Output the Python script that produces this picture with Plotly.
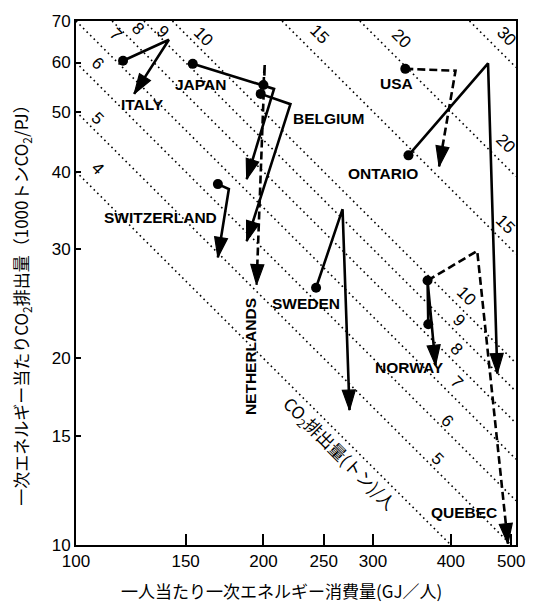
import numpy as np
import plotly.graph_objects as go

# Primary energy per capita (GJ/person) and CO2 intensity (1000 t CO2/PJ)
# Each path: start, turning point, end
ITALY_GJ = [119, 141, 124]
ITALY_CO2 = [60.4, 65.3, 53.4]
JAPAN_GJ = [154, 208, 188]
JAPAN_CO2 = [59.7, 54.4, 38.9]
BELGIUM_GJ = [198, 221, 188]
BELGIUM_CO2 = [53.4, 51.4, 30.9]
NETHERLANDS_GJ = [200, 201, 195]
NETHERLANDS_CO2 = [55.2, 59.6, 26.3]
SWITZERLAND_GJ = [169, 176, 169]
SWITZERLAND_CO2 = [38.2, 37.5, 29.1]
SWEDEN_GJ = [243, 268, 275]
SWEDEN_CO2 = [26.0, 34.8, 16.5]
NORWAY_GJ = [368, 367, 378]
NORWAY_CO2 = [22.7, 26.7, 19.5]
QUEBEC_GJ = [367, 441, 494]
QUEBEC_CO2 = [26.7, 29.8, 10.05]
ONTARIO_GJ = [342, 459, 475]
ONTARIO_CO2 = [42.5, 59.8, 18.9]
USA_GJ = [338, 407, 383]
USA_CO2 = [58.6, 58.2, 40.8]

# Iso-lines of per-capita emissions (t CO2/person)
PER_CAPITA_LEVELS = [4, 5, 6, 7, 8, 9, 10, 15, 20, 30]

X_TICKS = [100, 150, 200, 250, 300, 400, 500]
Y_TICKS = [10, 15, 20, 30, 40, 50, 60, 70]

X_MIN, X_MAX = 100, 509
Y_MIN, Y_MAX = 10, 70

LATIN = "Liberation Sans, Arial, sans-serif"
CJK = "Noto Sans CJK JP, sans-serif"

fig = go.Figure()

# dotted iso-emission lines: energy * intensity / 1000 = tonnes per person
for c in PER_CAPITA_LEVELS:
    x0 = max(X_MIN, 1000 * c / Y_MAX)
    x1 = min(X_MAX, 1000 * c / Y_MIN)
    xs = [x0, x1]
    ys = [1000 * c / v for v in xs]
    fig.add_trace(go.Scatter(
        x=xs, y=ys, mode="lines",
        line=dict(color="black", width=1.6, dash="1.6px,3.4px"),
        hoverinfo="skip", showlegend=False))

paths = [
    ("ITALY", ITALY_GJ, ITALY_CO2, "solid"),
    ("JAPAN", JAPAN_GJ, JAPAN_CO2, "solid"),
    ("BELGIUM", BELGIUM_GJ, BELGIUM_CO2, "solid"),
    ("NETHERLANDS", NETHERLANDS_GJ, NETHERLANDS_CO2, "dashed"),
    ("SWITZERLAND", SWITZERLAND_GJ, SWITZERLAND_CO2, "solid"),
    ("SWEDEN", SWEDEN_GJ, SWEDEN_CO2, "solid"),
    ("NORWAY", NORWAY_GJ, NORWAY_CO2, "solid"),
    ("QUEBEC", QUEBEC_GJ, QUEBEC_CO2, "dashed"),
    ("ONTARIO", ONTARIO_GJ, ONTARIO_CO2, "solid"),
    ("USA", USA_GJ, USA_CO2, "dashed"),
]

for name, gx, cy, style in paths:
    dash = "solid" if style == "solid" else "8px,4px"
    n = len(gx)
    # path with an arrowhead at its final point
    fig.add_trace(go.Scatter(
        x=gx, y=cy, mode="lines+markers", name=name,
        line=dict(color="black", width=2.6, dash=dash),
        marker=dict(symbol="arrow", size=[0] * (n - 1) + [21],
                    color="black", opacity=1, angleref="previous",
                    line=dict(width=1.2, color="black")),
        opacity=1, cliponaxis=False, showlegend=False))
    # filled dot at the starting point
    fig.add_trace(go.Scatter(
        x=[gx[0]], y=[cy[0]], mode="markers",
        marker=dict(symbol="circle", size=10, color="black",
                    line=dict(width=0)),
        cliponaxis=False, showlegend=False, hoverinfo="skip"))

# country names
country_labels = [
    ("ITALY", 127.8, 51.3, 0),
    ("JAPAN", 158.4, 55.2, 0),
    ("BELGIUM", 254.0, 48.8, 0),
    ("USA", 326.6, 55.6, 0),
    ("ONTARIO", 310.9, 39.8, 0),
    ("SWITZERLAND", 136.7, 33.7, 0),
    ("SWEDEN", 233.9, 24.5, 0),
    ("NETHERLANDS", 190.4, 20.1, -90),
    ("NORWAY", 342.9, 19.35, 0),
    ("QUEBEC", 419.8, 11.3, 0),
]
annotations = []
for text, x, y, ang in country_labels:
    annotations.append(dict(
        x=np.log10(x), y=np.log10(y), xref="x", yref="y",
        text="<b>%s</b>" % text,
        showarrow=False, textangle=ang,
        font=dict(family=LATIN, size=15.5, color="black")))

# level labels along the dotted lines
level_labels = [
    ("7", 115.8, 66.6), ("8", 125.6, 68.0), ("9", 137.7, 67.3),
    ("10", 160.2, 66.1), ("15", 246.3, 66.6), ("20", 333.0, 65.6),
    ("30", 491.7, 66.1),
    ("6", 108.4, 59.8), ("5", 108.4, 48.8), ("4", 108.4, 40.5),
    ("20", 489.8, 44.4), ("15", 489.8, 32.9), ("10", 424.4, 25.2),
    ("9", 412.1, 23.0), ("8", 409.1, 20.7), ("7", 409.1, 18.3),
    ("6", 394.4, 15.9), ("5", 380.2, 13.8),
]
for text, x, y in level_labels:
    annotations.append(dict(
        x=np.log10(x), y=np.log10(y), xref="x", yref="y", text=text,
        showarrow=False, textangle=45,
        font=dict(family=LATIN, size=17, color="black")))

# caption along the iso-lines
annotations.append(dict(
    x=np.log10(265), y=np.log10(14.06), xref="x", yref="y",
    text="CO<sub>2</sub>排出量(トン)/人", showarrow=False, textangle=45,
    font=dict(family=CJK, size=17, color="black")))

# axis titles
annotations.append(dict(
    x=0.468, y=0, xref="paper", yref="paper", yshift=-45,
    text="一人当たり一次エネルギー消費量(GJ／人)", showarrow=False,
    yanchor="middle", font=dict(family=CJK, size=17, color="black")))
annotations.append(dict(
    x=0, y=0.466, xref="paper", yref="paper", xshift=-54,
    text="一次エネルギー当たりCO<sub>2</sub>排出量（1000トンCO<sub>2</sub>/PJ）",
    showarrow=False, textangle=-90, xanchor="center",
    font=dict(family=CJK, size=17, color="black")))

axis_common = dict(
    type="log", showgrid=False, zeroline=False,
    showline=True, linecolor="black", linewidth=2, mirror=True,
    ticks="inside", tickcolor="black", tickwidth=2,
    tickfont=dict(family=LATIN, size=17, color="black"))

fig.update_layout(
    width=537, height=602,
    margin=dict(l=76, r=19, t=19, b=57),
    plot_bgcolor="white", paper_bgcolor="white",
    xaxis=dict(range=[np.log10(X_MIN), np.log10(X_MAX)],
               tickvals=X_TICKS, ticktext=[str(v) for v in X_TICKS],
               ticklen=11, **axis_common),
    yaxis=dict(range=[np.log10(Y_MIN), np.log10(Y_MAX)],
               tickvals=Y_TICKS, ticktext=[str(v) for v in Y_TICKS],
               ticklen=5, **axis_common),
    annotations=annotations,
    showlegend=False,
)

fig.write_html("out.html")
